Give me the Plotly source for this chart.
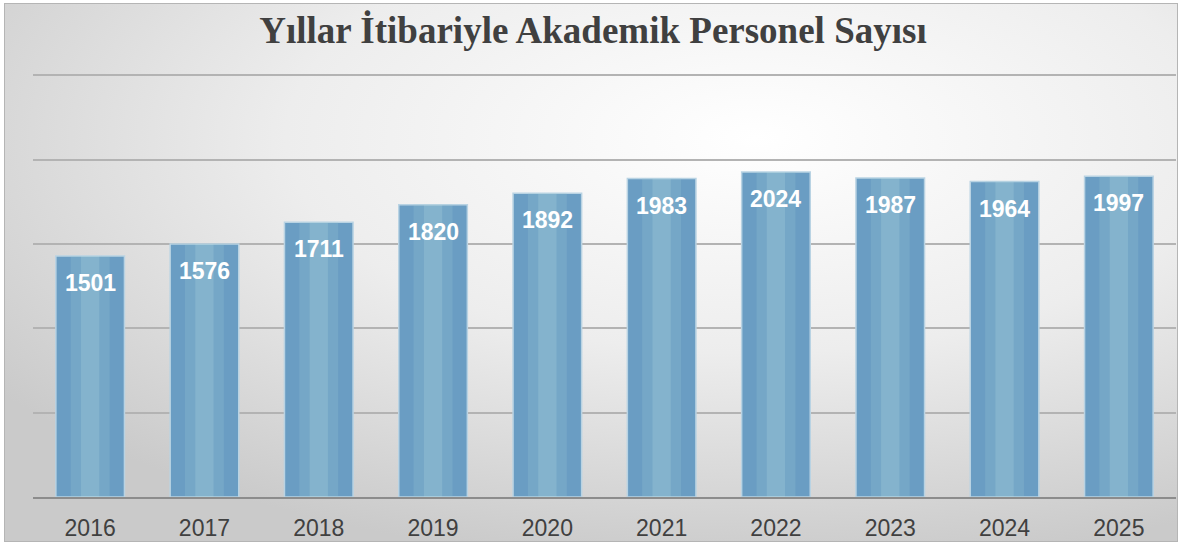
import base64

import plotly.graph_objects as go

years = ["2016", "2017", "2018", "2019", "2020", "2021", "2022", "2023", "2024", "2025"]
staff = [1501, 1576, 1711, 1820, 1892, 1983, 2024, 1987, 1964, 1997]

TITLE = "Yıllar İtibariyle Akademik Personel Sayısı"

# gray radial background like the original chart area
_BG_SVG = """<svg xmlns='http://www.w3.org/2000/svg' width='1174' height='539' viewBox='0 0 1174 539'>
<defs><radialGradient id='g' cx='0.64' cy='0.25' r='0.8'>
<stop offset='0' stop-color='#ffffff'/><stop offset='0.5' stop-color='#ededed'/>
<stop offset='1' stop-color='#cacaca'/></radialGradient></defs>
<rect x='0.5' y='0.5' width='1173' height='538' fill='url(#g)' stroke='#b5b5b5' stroke-width='1'/>
</svg>"""
_BG_URI = "data:image/svg+xml;base64," + base64.b64encode(_BG_SVG.encode()).decode()

PLOT_W, PLOT_H = 1143, 424

fig = go.Figure()
fig.add_trace(
    go.Bar(
        x=years,
        y=staff,
        marker=dict(color="#6a9dc3", line=dict(color="#b9d3e3", width=1.5)),
        width=0.6,
        hoverinfo="x+y",
    )
)
# soft lighter streak down the middle of each bar
for w, col in [(0.34, "rgba(160,205,215,0.22)"), (0.16, "rgba(185,225,228,0.22)")]:
    fig.add_trace(
        go.Bar(
            x=years,
            y=staff,
            marker=dict(color=col, line=dict(width=0)),
            width=w,
            hoverinfo="skip",
        )
    )
# value labels inside the top of each bar (x given as category index)
for i, v in enumerate(staff):
    fig.add_annotation(
        x=i,
        y=v,
        yshift=-27,
        text=f"<b>{v}</b>",
        showarrow=False,
        font=dict(family="Liberation Sans, Arial", size=23, color="white"),
    )

fig.update_layout(
    barmode="overlay",
    showlegend=False,
    width=1186,
    height=543,
    margin=dict(l=33, r=10, t=73, b=46, autoexpand=False),
    paper_bgcolor="white",
    plot_bgcolor="rgba(0,0,0,0)",
    title=dict(
        text=f"<b>{TITLE}</b>",
        x=0.5,
        xanchor="center",
        y=0.945,
        yanchor="middle",
        font=dict(family="Liberation Serif, Times New Roman", size=37, color="#404040"),
    ),
    images=[
        dict(
            source=_BG_URI,
            xref="paper",
            yref="paper",
            x=-29 / PLOT_W,
            y=(PLOT_H + 70) / PLOT_H,
            sizex=1174 / PLOT_W,
            sizey=539 / PLOT_H,
            sizing="stretch",
            xanchor="left",
            yanchor="top",
            layer="below",
        )
    ],
)
fig.update_xaxes(
    type="category",
    automargin=False,
    showgrid=False,
    showline=True,
    linecolor="#8c8c8c",
    linewidth=2,
    ticks="",
    tickfont=dict(family="Liberation Sans, Arial", size=23, color="#404040"),
    ticklabelstandoff=9,
)
fig.update_yaxes(
    automargin=False,
    range=[0, 2640],
    tick0=0,
    dtick=525,
    showgrid=True,
    gridcolor="#b3b3b3",
    gridwidth=2,
    showticklabels=False,
    zeroline=False,
)

fig.write_html(
    "out.html",
    config={"displayModeBar": False},
    post_script="document.body.style.margin='0';",
)
